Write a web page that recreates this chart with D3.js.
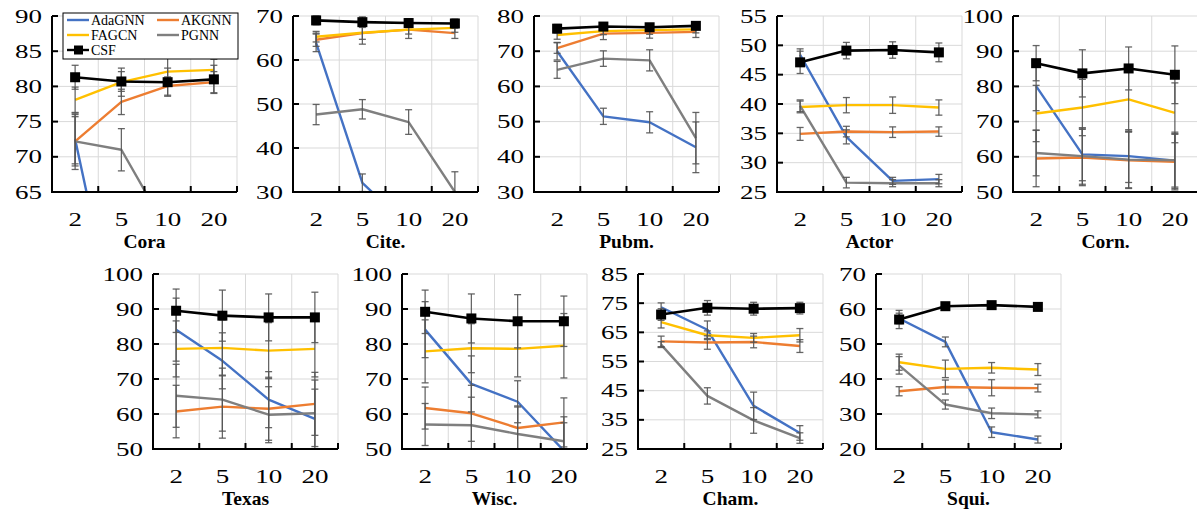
<!DOCTYPE html>
<html><head><meta charset="utf-8">
<script src="https://cdn.jsdelivr.net/npm/d3@7"></script>
<style>body{margin:0;background:#fff}svg{display:block}</style>
</head><body>
<svg id="c" width="1197" height="510"></svg>
<script>
const categories = ["2","5","10","20"];
const datasets = ["Cora","Cite.","Pubm.","Actor","Corn.","Texas","Wisc.","Cham.","Squi."];
const yMin = [65,30,30,25,50,50,50,25,20];
const yMax = [90,70,80,55,100,100,100,85,70];
const yStep = [5,10,10,5,10,10,10,10,10];
const methods = ["AdaGNN","AKGNN","FAGCN","PGNN","CSF"];

const AdaGNN = [[72.5,42,35,30],[63.9,32.1,22,18],[70.0,51.5,49.8,42.7],[48.4,34.4,26.9,27.2],[80.1,60.7,60.2,58.9],[84.1,75.2,64.1,58.6],[84.1,68.6,63.5,49.5],[73.6,65.9,39.8,30.5],[57.3,50.6,24.8,22.7]];
const AdaGNN_err = [[3.5,3,3,3],[2,2,2,2],[2.5,2.3,3,7.2],[1,1.2,0.6,0.8],[7,7.5,7.5,7.5],[9,8,8,8.5],[8,8,6,8],[1.5,3,4.7,2.5],[1.5,1.4,1.5,1]];
const AKGNN = [[72.2,77.8,80.05,80.6],[64.6,66.1,66.9,66.1],[70.9,75.0,75.2,75.5],[34.9,35.3,35.2,35.3],[59.5,59.8,59.0,58.6],[60.7,62.1,61.5,62.9],[61.7,60.2,56.0,57.6],[61.9,61.5,61.7,60.3],[36.5,37.7,37.5,37.4]];
const AKGNN_err = [[4,1.8,1.3,1.5],[1.5,2.5,2,1.2],[1.5,1.7,1.5,1.6],[1.1,0.9,0.9,0.8],[8,8,8,8],[7.5,9,9,9],[6,8,6,7],[1.8,2.3,2,2.2],[1.3,2,2.3,1.1]];
const FAGCN = [[78.1,80.6,82.1,82.35],[65.3,66.2,66.9,67.3],[74.6,75.7,76.0,76.2],[39.5,39.8,39.8,39.4],[72.3,74.0,76.3,72.5],[78.6,78.9,78.1,78.6],[77.9,78.8,78.6,79.5],[68.5,64.0,63.1,64.0],[44.8,42.9,43.2,42.7]];
const FAGCN_err = [[1.8,2,2,1.5],[1.2,1.5,1,1],[1.2,1,1.2,1],[1,1.3,1.4,1.3],[8,8,9,8.5],[8,8,8,8],[9,7,8,9.2],[2,1.5,1.5,2.3],[2.3,2.5,1.5,1.7]];
const PGNN = [[72.2,71.0,59.5,55],[47.6,48.8,45.9,30.0],[64.7,67.9,67.4,45.3],[39.7,26.6,26.5,26.5],[61.1,60.2,59.2,59.0],[65.2,64.1,59.8,60.2],[57.0,56.8,54.3,52.2],[60.8,43.2,34.8,28.75],[43.9,32.7,30.2,29.9]];
const PGNN_err = [[3.5,3,3,3],[2.3,2.2,2.8,4.6],[2.4,2.2,3,7.3],[1,0.9,0.6,0.6],[6.5,8,8,8],[9,9,8,9.5],[6,8,8,7],[1,2.8,4.4,1.8],[2.5,1.3,1.5,1]];
const CSF = [[81.3,80.7,80.6,81.0],[69.0,68.6,68.4,68.3],[76.4,77.0,76.8,77.2],[47.1,49.1,49.2,48.8],[86.6,83.7,85.1,83.3],[89.5,88.1,87.6,87.6],[89.2,87.3,86.5,86.5],[71.1,73.4,73.1,73.3],[57.0,60.8,61.1,60.6]];
const CSF_err = [[1.7,1.4,2,2],[1,1.2,1,1],[1.2,1,1,1],[1.9,1.4,1.4,1.6],[5,6.7,6.1,8.2],[6.2,7.3,6.7,7.2],[6.2,7,7.6,7.2],[2,2.5,2.2,2],[2.6,1,1,1]];

const seriesVals = {AdaGNN, AKGNN, FAGCN, PGNN, CSF};
const seriesErr = {AdaGNN:AdaGNN_err, AKGNN:AKGNN_err, FAGCN:FAGCN_err, PGNN:PGNN_err, CSF:CSF_err};
const colors = {AdaGNN:"#4472C4", AKGNN:"#ED7D31", FAGCN:"#FFC000", PGNN:"#7F7F7F", CSF:"#000000"};

// layout
const layout = [
  {l:52,t:16,b:192},{l:293,t:16,b:192},{l:534,t:16,b:192},{l:777,t:16,b:192},{l:1013,t:16,b:192},
  {l:153,t:274,b:449},{l:402,t:274,b:449},{l:638,t:274,b:449},{l:876,t:274,b:449}
];
const PW = 185;
const font = "'Liberation Serif','Times New Roman',serif";
const SX = 1.42;
const svg = d3.select("#c");

datasets.forEach((ds, i) => {
  const L = layout[i];
  const x = d3.scaleBand().domain(categories).range([L.l, L.l + PW]);
  const y = d3.scaleLinear().domain([yMin[i], yMax[i]]).range([L.b, L.t]);
  const ticks = d3.range(yMin[i], yMax[i] + 0.001, yStep[i]);
  const g = svg.append("g");

  // grid
  g.selectAll(".hg").data(ticks).join("line")
    .attr("x1", L.l).attr("x2", L.l + PW).attr("y1", d => y(d)).attr("y2", d => y(d))
    .attr("stroke", "#d9d9d9").attr("stroke-width", 1);
  const bounds = categories.map(c => x(c) + x.bandwidth());
  g.selectAll(".vg").data(bounds).join("line")
    .attr("x1", d => d).attr("x2", d => d).attr("y1", L.t).attr("y2", L.b)
    .attr("stroke", "#d9d9d9").attr("stroke-width", 1);

  const cid = "clip" + i;
  svg.append("clipPath").attr("id", cid).append("rect")
    .attr("x", L.l).attr("y", L.t - 8).attr("width", PW + 2).attr("height", L.b - L.t + 8);
  const pg = g.append("g").attr("clip-path", `url(#${cid})`);

  const cx = c => x(c) + x.bandwidth() / 2;
  const line = d3.line().x((d, k) => cx(categories[k])).y(d => y(d));

  methods.forEach(m => {
    pg.append("path").datum(seriesVals[m][i]).attr("d", line)
      .attr("fill", "none").attr("stroke", colors[m]).attr("stroke-width", m === "CSF" ? 2.6 : 2.4)
      .attr("stroke-linejoin", "round");
  });
  methods.forEach(m => {
    const vals = seriesVals[m][i], errs = seriesErr[m][i];
    categories.forEach((c, k) => {
      const X = cx(c), y1 = y(vals[k] + errs[k]), y2 = y(vals[k] - errs[k]);
      pg.append("line").attr("x1", X).attr("x2", X).attr("y1", y1).attr("y2", y2)
        .attr("stroke", "#555").attr("stroke-width", 1.3).attr("stroke-opacity", 0.9);
      [y1, y2].forEach(yy => pg.append("line").attr("x1", X - 3.5).attr("x2", X + 3.5)
        .attr("y1", yy).attr("y2", yy).attr("stroke", "#555").attr("stroke-width", 1.3).attr("stroke-opacity", 0.9));
    });
  });
  pg.selectAll(".mk").data(seriesVals.CSF[i]).join("rect")
    .attr("x", (d, k) => cx(categories[k]) - 5).attr("y", d => y(d) - 5)
    .attr("width", 10).attr("height", 10).attr("fill", "#000");

  // axes
  g.append("line").attr("x1", L.l).attr("x2", L.l).attr("y1", L.t).attr("y2", L.b + 1)
    .attr("stroke", "#000").attr("stroke-width", 2);
  g.append("line").attr("x1", L.l - 1).attr("x2", L.l + PW).attr("y1", L.b).attr("y2", L.b)
    .attr("stroke", "#000").attr("stroke-width", 2);
  g.selectAll(".yt").data(ticks).join("line")
    .attr("x1", L.l).attr("x2", L.l + 6).attr("y1", d => y(d)).attr("y2", d => y(d))
    .attr("stroke", "#000").attr("stroke-width", 2);
  g.selectAll(".xt").data(bounds).join("line")
    .attr("x1", d => d).attr("x2", d => d).attr("y1", L.b).attr("y2", L.b - 6)
    .attr("stroke", "#000").attr("stroke-width", 2);

  g.selectAll(".yl").data(ticks).join("text")
    .attr("transform", d => `translate(${L.l - 10},${y(d) + 6.5}) scale(${SX},1)`)
    .attr("text-anchor", "end")
    .attr("font-family", font).attr("font-size", 19).text(d => d);
  g.selectAll(".xl").data(categories).join("text")
    .attr("transform", d => `translate(${cx(d)},${L.b + 34}) scale(${SX},1)`)
    .attr("text-anchor", "middle")
    .attr("font-family", font).attr("font-size", 19).text(d => d);
  g.append("text").attr("x", L.l + PW / 2).attr("y", L.b + 56).attr("text-anchor", "middle")
    .attr("font-family", font).attr("font-size", 19.5).attr("font-weight", "bold").text(ds);
});

// legend
const lg = svg.append("g").attr("transform", "translate(63,13)");
lg.append("rect").attr("width", 175).attr("height", 46).attr("fill", "#fff").attr("stroke", "#000").attr("stroke-width", 1);
const legPos = [[0,0],[90,0],[0,1],[90,1],[0,2]];
const legOrder = ["AdaGNN","AKGNN","FAGCN","PGNN","CSF"];
legOrder.forEach((m, k) => {
  const [lx, row] = legPos[k];
  const yy = 7 + row * 15;
  lg.append("line").attr("x1", lx + 4).attr("x2", lx + 26).attr("y1", yy).attr("y2", yy)
    .attr("stroke", colors[m]).attr("stroke-width", 2.4);
  if (m === "CSF") lg.append("rect").attr("x", lx + 11).attr("y", yy - 4.5).attr("width", 9).attr("height", 9).attr("fill", "#000");
  lg.append("text").attr("x", lx + 28).attr("y", yy + 5).attr("font-family", font).attr("font-size", 14).text(m);
});
</script>
</body></html>
